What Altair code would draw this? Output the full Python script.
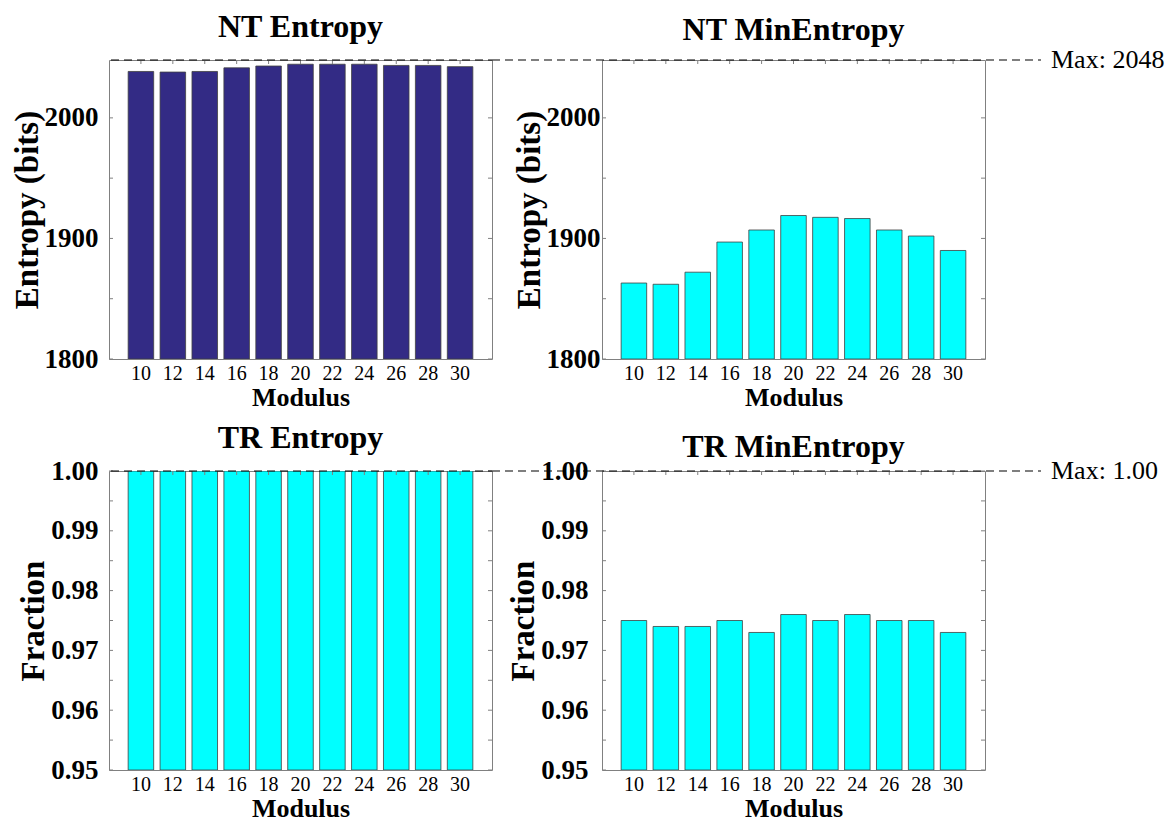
import altair as alt
import pandas as pd

FONT = "Liberation Serif"

modulus = [10, 12, 14, 16, 18, 20, 22, 24, 26, 28, 30]
nt_entropy = [2038.5, 2038, 2038.5, 2041.5, 2043, 2044.5, 2044.5, 2044.5, 2043.5, 2043.5, 2042.5]
nt_minentropy = [1863, 1862, 1872, 1897, 1907, 1919, 1917.5, 1916.5, 1907, 1902, 1890]
tr_entropy = [1.0, 1.0, 1.0, 1.0, 1.0, 1.0, 1.0, 1.0, 1.0, 1.0, 1.0]
tr_minentropy = [0.975, 0.974, 0.974, 0.975, 0.973, 0.976, 0.975, 0.976, 0.975, 0.975, 0.973]

nt_domain = [1800, 2048]
nt_labels = [1800, 1900, 2000]
nt_ticks = [1800, 1850, 1900, 1950, 2000]
tr_domain = [0.95, 1.0]
tr_labels = [0.95, 0.96, 0.97, 0.98, 0.99, 1.0]
tr_ticks = [0.95, 0.955, 0.96, 0.965, 0.97, 0.975, 0.98, 0.985, 0.99, 0.995, 1.0]

nt_max = 2048
nt_max_label = "Max: 2048"
tr_max = 1.0
tr_max_label = "Max: 1.00"

DARK = "#332B85"
CYAN = "#00FFFF"
FRAME = "#808080"

W, H = 383, 299
GAP = 110


def panel(vals, title, ytitle, ydom, ylabels, yticks, fmt, color, title_off, title_dy,
          ylp, maxv, maxlab=None, right=False):
    w = W
    df = pd.DataFrame({"Modulus": modulus, "v": vals})
    xscale = alt.Scale(paddingInner=0.2, paddingOuter=0.6)
    yscale = alt.Scale(domain=ydom, zero=False, nice=False)
    xaxis = alt.Axis(
        title="Modulus", labelAngle=0, labelFont=FONT, labelFontSize=20,
        labelFontWeight="normal", labelColor="black", titleFont=FONT,
        titleFontSize=26, titleFontWeight="bold", titleColor="black",
        ticks=False, domain=False, labelPadding=4, titlePadding=1,
    )
    yaxis = alt.Axis(
        title=ytitle, values=ylabels, format=fmt, ticks=False, domain=False,
        grid=False, labelFont=FONT, labelFontSize=27, labelFontWeight="bold",
        labelColor="black", labelPadding=ylp, titleFont=FONT,
        titleFontSize=33, titleFontWeight="bold", titleColor="black",
        titlePadding=0,
    )
    bars = alt.Chart(df).mark_bar(
        color=color, stroke="#404040", strokeWidth=0.8, clip=True
    ).encode(
        x=alt.X("Modulus:O", scale=xscale, axis=xaxis),
        y=alt.Y("v:Q", scale=yscale, axis=yaxis),
        y2=alt.datum(ydom[0]),
    )

    tdf = pd.DataFrame({"t": yticks})
    ltick = alt.Chart(tdf).mark_rule(color=FRAME, strokeWidth=1).encode(
        y=alt.Y("t:Q", scale=yscale, axis=yaxis), x=alt.value(0), x2=alt.value(4)
    )
    rtick = alt.Chart(tdf).mark_rule(color=FRAME, strokeWidth=1).encode(
        y=alt.Y("t:Q", scale=yscale, axis=yaxis), x=alt.value(w - 4), x2=alt.value(w)
    )
    ttick = alt.Chart(df).mark_rule(color=FRAME, strokeWidth=1).encode(
        x=alt.X("Modulus:O", scale=xscale, axis=xaxis), y=alt.value(0), y2=alt.value(4)
    )
    layers = [bars, ltick, rtick, ttick]

    mdf = pd.DataFrame({"m": [maxv], "lab": [maxlab or ""]})
    if right:
        rule = alt.Chart(mdf).mark_rule(
            color="black", strokeDash=[8, 5], strokeWidth=1.2
        ).encode(
            y=alt.Y("m:Q", scale=yscale, axis=yaxis),
            x=alt.value(-GAP),
            x2=alt.value(w + 56),
        )
        txt = alt.Chart(mdf).mark_text(
            align="left", baseline="middle", font=FONT, fontSize=26, color="black"
        ).encode(
            y=alt.Y("m:Q", scale=yscale, axis=yaxis),
            x=alt.value(w + 66),
            text="lab:N",
        )
        layers += [rule, txt]
    else:
        rule = alt.Chart(mdf).mark_rule(
            color="black", strokeDash=[8, 5], strokeWidth=1.2
        ).encode(
            y=alt.Y("m:Q", scale=yscale, axis=yaxis),
            x=alt.value(2),
            x2=alt.value(w),
        )
        layers += [rule]

    tp = dict(text=title, font=FONT, fontSize=32, fontWeight="bold",
              color="black", anchor="middle", offset=title_off, frame="group")
    if title_dy:
        tp["dy"] = title_dy
    return alt.layer(*layers).properties(
        width=w,
        height=H,
        title=alt.TitleParams(**tp),
    )


tl = panel(nt_entropy, "NT Entropy", "Entropy (bits)", nt_domain, nt_labels, nt_ticks,
           "d", DARK, 15, 0, 11, nt_max)
tr = panel(nt_minentropy, "NT MinEntropy", "Entropy (bits)", nt_domain, nt_labels, nt_ticks,
           "d", CYAN, 0, 0, 2, nt_max, nt_max_label, right=True)
bl = panel(tr_entropy, "TR Entropy", "Fraction", tr_domain, tr_labels, tr_ticks,
           ".2f", CYAN, 2, 0, 11, tr_max)
br = panel(tr_minentropy, "TR MinEntropy", "Fraction", tr_domain, tr_labels, tr_ticks,
           ".2f", CYAN, 0, 7, 14, tr_max, tr_max_label, right=True)

chart = alt.concat(
    tl, tr, bl, br, columns=2,
    spacing=alt.RowColnumber(row=10, column=-4),
).properties(
    padding=alt.Padding(left=2, top=2, right=0, bottom=0)
).configure_view(stroke=FRAME, strokeWidth=1)

chart.save("out.html", embed_options={"renderer": "svg", "actions": False})
